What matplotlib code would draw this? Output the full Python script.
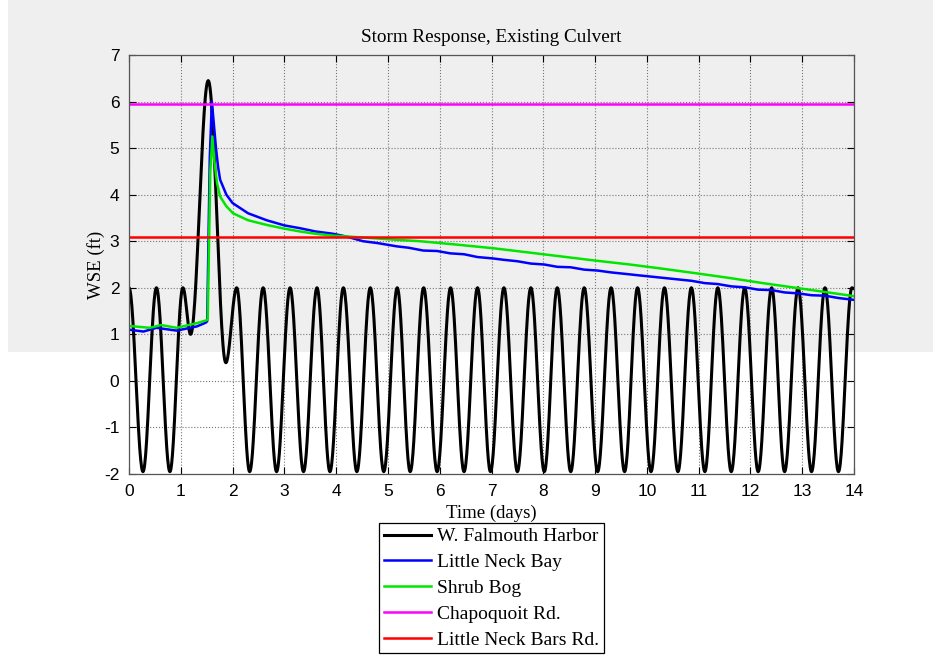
import numpy as np
import matplotlib
matplotlib.use("Agg")
import matplotlib.pyplot as plt
from matplotlib.patches import Rectangle

# tide extremes at W. Falmouth Harbor (days, ft)
harbor_t = [0.0, 0.27, 0.53, 0.79, 1.04, 1.19, 1.53, 1.87, 2.08, 2.33, 2.59, 2.85, 3.11, 3.37,
            3.63, 3.88, 4.14, 4.40, 4.66, 4.92, 5.18, 5.43, 5.69, 5.95, 6.21, 6.47, 6.73, 6.98,
            7.24, 7.50, 7.76, 8.02, 8.27, 8.53, 8.79, 9.05, 9.31, 9.57, 9.82, 10.08, 10.34, 10.60,
            10.86, 11.12, 11.37, 11.63, 11.89, 12.15, 12.41, 12.66, 12.92, 13.18, 13.44, 13.70,
            13.96, 14.0]
harbor_v = [2.0, -1.95, 2.0, -1.95, 2.0, 1.0, 6.45, 0.39, 2.0, -1.95, 2.0, -1.95, 2.0, -1.95,
            2.0, -1.95, 2.0, -1.95, 2.0, -1.95, 2.0, -1.95, 2.0, -1.95, 2.0, -1.95, 2.0, -1.95,
            2.0, -1.95, 2.0, -1.95, 2.0, -1.95, 2.0, -1.95, 2.0, -1.95, 2.0, -1.95, 2.0, -1.95,
            2.0, -1.95, 2.0, -1.95, 2.0, -1.95, 2.0, -1.95, 2.0, -1.95, 2.0, -1.95,
            2.0, 1.98]

bay_t = [0.0, 0.28, 0.53, 0.92, 1.31, 1.48, 1.51, 1.56, 1.60, 1.64, 1.68, 1.72, 1.76, 1.88,
         2.0, 2.3, 2.66, 3.0, 3.3, 3.6, 3.94, 4.2, 4.52, 4.8, 5.17, 5.4, 5.68, 5.95, 6.2, 6.47,
         6.73, 7.03, 7.24, 7.5, 7.76, 8.02, 8.27, 8.53, 8.79, 9.05, 9.31, 9.57, 9.82, 10.08,
         10.34, 10.60, 10.86, 11.12, 11.37, 11.63, 11.89, 12.15, 12.41, 12.66, 12.92, 13.18,
         13.44, 13.70, 14.0]
bay_v = [1.10, 1.06, 1.14, 1.08, 1.17, 1.25, 1.28, 4.8, 6.0, 5.5, 5.0, 4.6, 4.32, 4.0,
         3.82, 3.6, 3.45, 3.34, 3.28, 3.21, 3.16, 3.10, 3.0, 2.96, 2.89, 2.86, 2.80, 2.79, 2.74, 2.72,
         2.66, 2.63, 2.60, 2.57, 2.52, 2.50, 2.45, 2.44, 2.39, 2.37, 2.33, 2.30, 2.27, 2.24,
         2.21, 2.18, 2.15, 2.10, 2.08, 2.03, 2.01, 1.96, 1.95, 1.90, 1.88, 1.84,
         1.83, 1.78, 1.74]

bog_t = [0.0, 0.4, 0.62, 0.92, 1.31, 1.49, 1.52, 1.57, 1.61, 1.65, 1.70, 1.76, 1.88, 2.01,
         2.3, 2.66, 3.0, 3.3, 3.6, 3.94, 4.52, 5.17, 5.62, 6.3, 7.03, 8.0, 8.96, 9.67, 10.3,
         10.96, 11.6, 12.24, 13.0, 13.5, 14.0]
bog_v = [1.18, 1.14, 1.20, 1.14, 1.24, 1.30, 1.32, 4.5, 5.25, 4.7, 4.25, 3.96, 3.75, 3.6,
         3.45, 3.35, 3.27, 3.21, 3.16, 3.12, 3.08, 3.03, 3.0, 2.93, 2.85, 2.72, 2.59, 2.5, 2.41,
         2.31, 2.21, 2.10, 1.98, 1.90, 1.82]

chapoquoit_rd = 5.94
bars_rd = 3.1

labels = ["W. Falmouth Harbor", "Little Neck Bay", "Shrub Bog", "Chapoquoit Rd.",
          "Little Neck Bars Rd."]
colors = ["black", "#0000ff", "#00e600", "#ff00ff", "#ff0000"]


def tide_curve(t, v, n=30):
    # smooth half-cosine between successive highs and lows
    xs, ys = [], []
    for i in range(len(t) - 1):
        s = np.linspace(0, 1, n, endpoint=False)
        xs.append(t[i] + (t[i + 1] - t[i]) * s)
        ys.append(v[i] + (v[i + 1] - v[i]) * (1 - np.cos(np.pi * s)) / 2)
    xs.append([t[-1]])
    ys.append([v[-1]])
    return np.concatenate(xs), np.concatenate(ys)


serif = "Liberation Serif"
sans = "Liberation Sans"
plt.rcParams["axes.unicode_minus"] = False

fig = plt.figure(figsize=(9.33, 6.55), dpi=100)
fig.patch.set_facecolor("white")
fig.patches.append(Rectangle((8 / 933, 1 - 352 / 655), 1 - 8 / 933, 352 / 655,
                             transform=fig.transFigure, facecolor="#efefef",
                             edgecolor="none", zorder=-5))

ax = fig.add_axes([129 / 933, 1 - 474 / 655, 725 / 933, 419 / 655])
ax.set_facecolor("none")

hx, hy = tide_curve(harbor_t, harbor_v)
ax.plot(hx, hy, color=colors[0], lw=2.2, label=labels[0])
ax.plot(bay_t, bay_v, color=colors[1], lw=1.8, label=labels[1])
ax.plot(bog_t, bog_v, color=colors[2], lw=1.8, label=labels[2])
ax.axhline(chapoquoit_rd, color=colors[3], lw=1.8, label=labels[3])
ax.axhline(bars_rd, color=colors[4], lw=1.8, label=labels[4])

ax.set_xlim(0, 14)
ax.set_ylim(-2, 7)
ax.set_xticks(range(0, 15))
ax.set_yticks(range(-2, 8))
ax.grid(True, color="#777777", linestyle=":", linewidth=0.8)
ax.tick_params(direction="in", top=True, right=True, length=5, width=0.8,
               labelsize=12.5, pad=7)
for lab in ax.get_xticklabels() + ax.get_yticklabels():
    lab.set_fontfamily(sans)
for sp in ax.spines.values():
    sp.set_color("#555555")
    sp.set_linewidth(0.9)

ax.set_title("Storm Response, Existing Culvert", fontfamily=serif, fontsize=13.8, pad=9)
ax.set_xlabel("Time (days)", fontfamily=serif, fontsize=13.5, labelpad=4)
ax.set_ylabel("WSE (ft)", fontfamily=serif, fontsize=13.5, labelpad=-1)

leg = ax.legend(loc="upper center", bbox_to_anchor=(0.5, -0.117), ncol=1,
                prop={"family": serif, "size": 14}, frameon=True, fancybox=False,
                edgecolor="black", framealpha=1, handlelength=2.4, labelspacing=0.42,
                borderpad=0.25, handletextpad=0.3, borderaxespad=0)
leg.get_frame().set_linewidth(0.9)

fig.savefig("out.png", dpi=100)
